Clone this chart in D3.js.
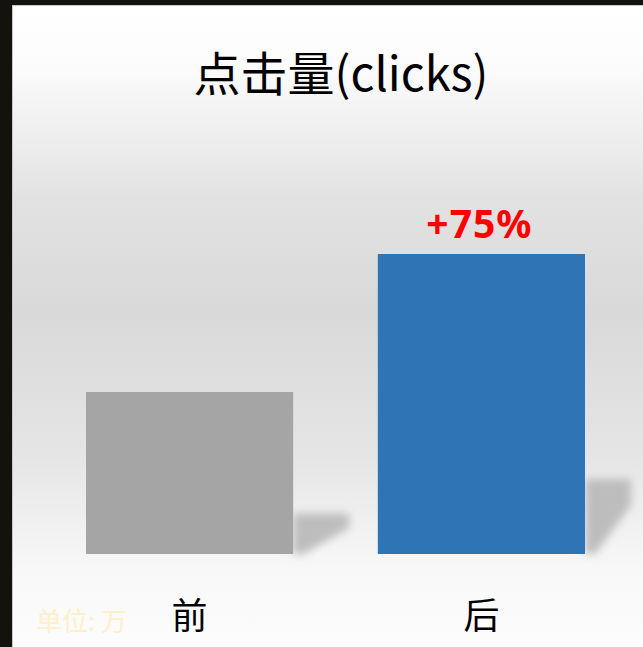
<!DOCTYPE html>
<html>
<head>
<meta charset="utf-8">
<script src="https://cdn.jsdelivr.net/npm/d3@7"></script>
<style>
  html, body { margin: 0; padding: 0; background: #14120d; }
  svg { display: block; }
</style>
</head>
<body>
<div id="chart-container"></div>
<script>
// chart data
const categories = ["前", "后"];
const values = [2.16, 4.0];          // 单位: 万
const barColors = ["#a5a5a5", "#2e75b6"];
const changeLabels = ["", "+75%"];
const titleText = "点击量(clicks)";
const unitText = "单位: 万";

const W = 643, H = 647;
const panel = { x: 13, y: 6 };
const margin = { top: 254, right: 58, bottom: 93, left: 86 };

const svg = d3.select("#chart-container")
    .append("svg")
    .attr("width", W)
    .attr("height", H);

const defs = svg.append("defs");

// background gradient: white -> grey -> white
const grad = defs.append("linearGradient")
    .attr("id", "bg").attr("x1", 0).attr("y1", 0).attr("x2", 0).attr("y2", 1);
grad.append("stop").attr("offset", "0").attr("stop-color", "#ffffff");
grad.append("stop").attr("offset", "0.1").attr("stop-color", "#fbfbfb");
grad.append("stop").attr("offset", "0.3").attr("stop-color", "#e2e2e2");
grad.append("stop").attr("offset", "0.48").attr("stop-color", "#d9d9d9");
grad.append("stop").attr("offset", "0.7").attr("stop-color", "#e5e5e5");
grad.append("stop").attr("offset", "0.88").attr("stop-color", "#f8f8f8");
grad.append("stop").attr("offset", "1").attr("stop-color", "#fcfcfc");

defs.append("filter").attr("id", "blur")
    .attr("x", "-40%").attr("y", "-40%").attr("width", "180%").attr("height", "180%")
    .append("feGaussianBlur").attr("stdDeviation", 4.5);

// panel
svg.append("rect")
    .attr("x", panel.x - 1).attr("y", panel.y - 1)
    .attr("width", W - panel.x + 1).attr("height", H - panel.y + 1)
    .attr("fill", "#c8c8c8");
svg.append("rect")
    .attr("x", panel.x).attr("y", panel.y)
    .attr("width", W - panel.x).attr("height", H - panel.y)
    .attr("fill", "url(#bg)");

// scales
const x = d3.scaleBand()
    .domain(categories)
    .range([margin.left, W - margin.right])
    .paddingInner(0.29)
    .paddingOuter(0);

const y = d3.scaleLinear()
    .domain([0, d3.max(values)])
    .range([H - margin.bottom, margin.top]);

const data = categories.map((c, i) => ({ cat: c, value: values[i], color: barColors[i], label: changeLabels[i] }));

// shadows behind bars
svg.append("g")
    .selectAll("path")
    .data(data)
    .join("path")
    .attr("filter", "url(#blur)")
    .attr("fill", "#bdbdbd")
    .attr("d", d => {
        const right = x(d.cat) + x.bandwidth();
        const base = y(0);
        const h = base - y(d.value);
        const top = base - h * 0.25;
        const w = d.value < 3 ? 56 : 46;
        return `M${right},${top} L${right + w},${top} L${right + w},${top + (base - top) * 0.35} L${right + 10},${base} L${right},${base} Z`;
    });

// bars
svg.append("g")
    .selectAll("rect")
    .data(data)
    .join("rect")
    .attr("x", d => x(d.cat))
    .attr("y", d => y(d.value))
    .attr("width", x.bandwidth())
    .attr("height", d => y(0) - y(d.value))
    .attr("fill", d => d.color);

// change label
svg.append("g")
    .selectAll("text")
    .data(data.filter(d => d.label))
    .join("text")
    .attr("x", d => x(d.cat) + x.bandwidth() / 2 - 2)
    .attr("y", d => y(d.value) - 16)
    .attr("text-anchor", "middle")
    .attr("font-family", "'Noto Sans', 'Noto Sans CJK SC', sans-serif")
    .attr("font-weight", "bold")
    .attr("font-size", 39)
    .attr("letter-spacing", 1)
    .attr("fill", "#ff0000")
    .text(d => d.label);

// category axis (labels only)
const xAxis = svg.append("g")
    .attr("transform", `translate(0,${y(0)})`)
    .call(d3.axisBottom(x).tickSize(0).tickPadding(49));
xAxis.select(".domain").remove();
xAxis.selectAll("text")
    .attr("font-family", "'Noto Sans CJK SC', sans-serif")
    .attr("font-size", 36)
    .attr("fill", "#000");

// title
svg.append("text")
    .attr("x", 341)
    .attr("y", 91)
    .attr("text-anchor", "middle")
    .attr("font-family", "'Noto Sans CJK SC', sans-serif")
    .attr("font-size", 47)
    .attr("fill", "#000")
    .text(titleText);

// unit
svg.append("text")
    .attr("x", 36)
    .attr("y", 631)
    .attr("font-family", "'Noto Sans CJK SC', sans-serif")
    .attr("font-size", 26)
    .attr("fill", "#fff0c8")
    .text(unitText);
</script>
</body>
</html>
